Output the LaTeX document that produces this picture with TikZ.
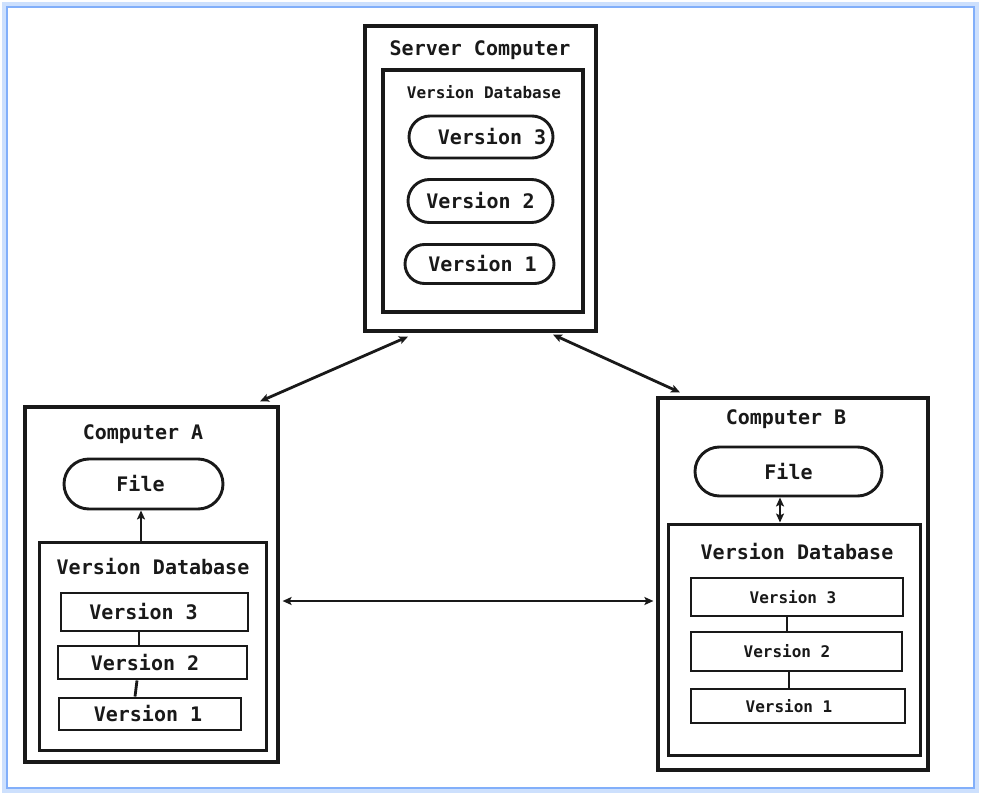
\documentclass[tikz,border=0pt]{standalone}
\usepackage{fontspec}
\newfontfamily\monob{DejaVu Sans Mono Bold}
\usetikzlibrary{shapes.misc,arrows.meta}
\definecolor{ink}{RGB}{25,25,25}
\definecolor{frameblue}{RGB}{130,175,250}
\definecolor{glowblue}{RGB}{205,224,253}
\tikzset{
  box/.style={draw=ink,line width=3.2pt,rectangle,inner sep=0pt,fill=white},
  pill/.style={draw=ink,line width=2.9pt,rounded rectangle,inner sep=0pt,text=ink},
  vrect/.style={draw=ink,line width=2.9pt,rectangle,inner sep=0pt,text=ink},
  ttl/.style={text=ink,inner sep=0pt},
  link/.style={draw=ink,line width=2.8pt},
  arr/.style={draw=ink,line width=2.8pt,{Stealth[length=9pt,width=8pt,inset=2pt]}-{Stealth[length=9pt,width=8pt,inset=2pt]}},
  uarr/.style={draw=ink,line width=2.8pt,-{Stealth[length=9pt,width=8pt,inset=2pt]}},
  big/.style={font=\monob\fontsize{20}{22}\selectfont},
  small/.style={font=\monob\fontsize{16}{18}\selectfont},
  tiny/.style={font=\monob\fontsize{16}{18}\selectfont},
}
\begin{document}
\begin{tikzpicture}[x=1pt,y=-1pt]
\useasboundingbox (0,0) rectangle (981,794);
\fill[white] (0,0) rectangle (981,794);
\draw[glowblue,line width=6pt] (5,5) rectangle (976,790);
\draw[frameblue,line width=2.5pt] (7,7) rectangle (974,788);

% Server
\node[box,minimum width=231pt,minimum height=305pt] (srv) at (480.5,178.5) {};
\node[ttl,big] (srvt) at (480,50) {Server Computer};
\node[box,minimum width=200pt,minimum height=242pt] (sdb) at (483,191) {};
\node[ttl,small] (sdbt) at (484,92) {Version Database};
\node[pill,big,minimum width=144pt,minimum height=42pt] (s3) at (481,137) {\hspace*{22pt}Version 3};
\node[pill,big,minimum width=145pt,minimum height=43pt] (s2) at (480.5,201) {Version 2};
\node[pill,big,minimum width=149pt,minimum height=39pt] (s1) at (479.5,264) {\hspace*{6pt}Version 1};

% Computer A
\node[box,minimum width=253pt,minimum height=355pt] (ca) at (151.5,584.5) {};
\node[ttl,big] (cat) at (143,434) {Computer A};
\node[pill,big,minimum width=159pt,minimum height=50pt] (af) at (143.5,484) {File\hspace*{6pt}};
\node[box,line width=3pt,minimum width=227pt,minimum height=208pt] (adb) at (152.5,646) {};
\node[ttl,big] (adbt) at (153,567) {Version Database};
\node[vrect,big,minimum width=187pt,minimum height=38pt] (a3) at (154.5,612) {Version 3\hspace*{22pt}};
\node[vrect,big,minimum width=189pt,minimum height=33pt] (a2) at (152.5,662.5) {Version 2\hspace*{15pt}};
\node[vrect,big,minimum width=182pt,minimum height=32pt] (a1) at (150,714) {Version 1\hspace*{4pt}};

% Computer B
\node[box,minimum width=270pt,minimum height=372pt] (cb) at (793,584) {};
\node[ttl,big] (cbt) at (786,419) {Computer B};
\node[pill,big,minimum width=187pt,minimum height=49pt] (bf) at (788.5,471.5) {File};
\node[box,line width=3pt,minimum width=252pt,minimum height=231pt] (bdb) at (794,639.5) {};
\node[ttl,big] (bdbt) at (797,552) {Version Database};
\node[vrect,tiny,minimum width=212pt,minimum height=38pt] (b3) at (797,597) {Version 3\hspace*{8pt}};
\node[vrect,tiny,minimum width=211pt,minimum height=39pt] (b2) at (796.5,651.5) {Version 2\hspace*{19pt}};
\node[vrect,tiny,minimum width=214pt,minimum height=34pt] (b1) at (798,706) {Version 1\hspace*{18pt}};

% links inside A
\draw[link] ([xshift=-15.5pt]a3.south) -- ([xshift=-13.5pt]a2.north);
\draw[link] ([xshift=-15.5pt]a2.south) -- ([xshift=-15pt]a1.north);
\draw[uarr] ([xshift=-11.5pt]adb.north) -- ([xshift=-2.5pt]af.south);

% links inside B
\draw[link] ([xshift=-10pt]b3.south) -- ([xshift=-9.5pt]b2.north);
\draw[link] ([xshift=-7.5pt]b2.south) -- ([xshift=-9pt]b1.north);
\draw[arr] ([xshift=-8.5pt]bf.south) -- ([xshift=-14pt]bdb.north);

% big arrows
\draw[arr] ([xshift=-72.5pt,yshift=-4pt]srv.south) -- ([xshift=108.5pt,yshift=4pt]ca.north);
\draw[arr] ([xshift=72.5pt,yshift=-2pt]srv.south) -- ([xshift=-113pt,yshift=4pt]cb.north);
\draw[arr] ([xshift=3pt,yshift=-16.5pt]ca.east) -- ([xshift=-3pt,yshift=-17pt]cb.west);
\end{tikzpicture}
\end{document}
